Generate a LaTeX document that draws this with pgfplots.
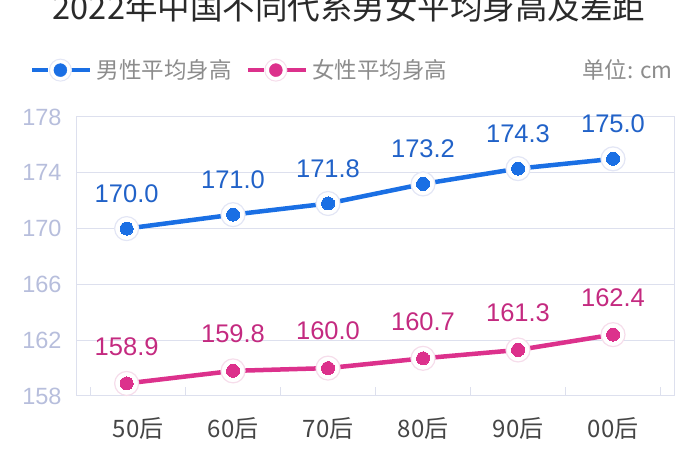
\documentclass[border=0pt]{standalone}
\usepackage{fontspec}
\setmainfont{Liberation Sans}
\newfontfamily\cjk{Noto Sans CJK SC}
\usepackage{pgfplots}
\pgfplotsset{compat=1.18}
\usepackage{pgfplotstable}
\definecolor{mblue}{HTML}{1A6FE4}
\definecolor{mbluetxt}{HTML}{2162C8}
\definecolor{fpink}{HTML}{DC318C}
\definecolor{fpinktxt}{HTML}{C42A80}
\definecolor{gridc}{HTML}{DDE0EE}
\definecolor{tickc}{HTML}{B7BEDC}
\definecolor{xlab}{HTML}{454545}
\definecolor{titlec}{HTML}{2A2A2A}
\definecolor{legc}{HTML}{8C8C8C}
\definecolor{halom}{HTML}{E3E6F5}
\definecolor{halof}{HTML}{F6DDEB}

\pgfplotstableread{
x y
-0.12 170.0
1 171.0
2 171.8
3 173.2
4 174.3
5 175.0
}\male
\pgfplotstableread{
x y
-0.12 158.9
1 159.8
2 160.0
3 160.7
4 161.3
5 162.4
}\female

\begin{document}
\begin{tikzpicture}
\useasboundingbox (0pt,0pt) rectangle (700pt,470pt);
\begin{axis}[
  at={(76pt,74pt)}, anchor=south west,
  scale only axis, width=598pt, height=279pt,
  xmin=-0.653, xmax=5.642, ymin=158, ymax=178,
  clip=false,
  /pgf/number format/assume math mode=true,
  ytick={158,162,...,178},
  xtick={0,...,5},
  xticklabels={50后,60后,70后,80后,90后,00后},
  xtick style={draw=none}, ytick style={draw=none},
  xtick pos=bottom,
  extra x ticks={-0.5,0.5,...,5.5},
  extra x tick labels={},
  extra x tick style={xtick style={draw=gridc, line width=1pt}, major tick length=9pt, tick align=inside},
  axis line style={draw=gridc, line width=1pt},
  ymajorgrids, grid style={gridc, line width=1pt},
  yticklabel style={text=tickc, font=\fontsize{23.5}{23.5}\selectfont, xshift=-11pt},
  xticklabel style={text=xlab, font=\cjk\fontsize{24}{24}\selectfont, yshift=-18pt},
  legend columns=-1,
  legend style={at={(axis description cs:-0.082,1.168)}, anchor=west, draw=none, fill=none,
    font=\cjk\fontsize{22.5}{22.5}\selectfont, text=legc,
    /tikz/every even column/.append style={column sep=12pt}},
]
% male
\addplot[mblue, line width=4.5pt, forget plot] table {\male};
\addplot[halom, only marks, mark=*, mark size=12pt, mark options={fill=white, draw=halom, line width=1.2pt}, forget plot] table {\male};
\addplot[mblue, only marks, mark=*, mark size=6.5pt, mark options={fill=mblue, draw=mblue, line width=0pt}, forget plot,
  nodes near coords,
  every node near coord/.append style={anchor=center, yshift=35pt, text=mbluetxt,
    font=\fontsize{25.5}{25.5}\selectfont,
    /pgf/number format/fixed, /pgf/number format/zerofill, /pgf/number format/precision=1}] table {\male};
% female
\addplot[fpink, line width=4.5pt, forget plot] table {\female};
\addplot[halof, only marks, mark=*, mark size=12pt, mark options={fill=white, draw=halof, line width=1.2pt}, forget plot] table {\female};
\addplot[fpink, only marks, mark=*, mark size=6.5pt, mark options={fill=fpink, draw=fpink, line width=0pt}, forget plot,
  nodes near coords,
  every node near coord/.append style={anchor=center, yshift=37pt, text=fpinktxt,
    font=\fontsize{25.5}{25.5}\selectfont,
    /pgf/number format/fixed, /pgf/number format/zerofill, /pgf/number format/precision=1}] table {\female};

\addlegendimage{legend image code/.code={
  \draw[mblue, line width=4.5pt] (0pt,0pt) -- (16pt,0pt);
  \draw[mblue, line width=4.5pt] (38pt,0pt) -- (58pt,0pt);
  \fill[white] (28pt,0pt) circle (11pt);
  \draw[halom, line width=1pt] (28pt,0pt) circle (11pt);
  \fill[mblue] (28pt,0pt) circle (6.5pt);
  \path (62pt,0pt);
}}
\addlegendentry{男性平均身高}
\addlegendimage{legend image code/.code={
  \draw[fpink, line width=4.5pt] (0pt,0pt) -- (16pt,0pt);
  \draw[fpink, line width=4.5pt] (38pt,0pt) -- (58pt,0pt);
  \fill[white] (28pt,0pt) circle (11pt);
  \draw[halof, line width=1pt] (28pt,0pt) circle (11pt);
  \fill[fpink] (28pt,0pt) circle (6.5pt);
  \path (62pt,0pt);
}}
\addlegendentry{女性平均身高}

\node[anchor=east, font=\cjk\fontsize{22.5}{22.5}\selectfont, text=legc, inner sep=0pt]
  at (axis description cs:0.998,1.168) {单位: cm};
\node[anchor=base, font=\cjk\fontsize{32.5}{32.5}\selectfont, text=titlec, inner sep=0pt]
  at (axis description cs:0.4565,1.35) {2022年中国不同代系男女平均身高及差距};
\end{axis}
\end{tikzpicture}
\end{document}
